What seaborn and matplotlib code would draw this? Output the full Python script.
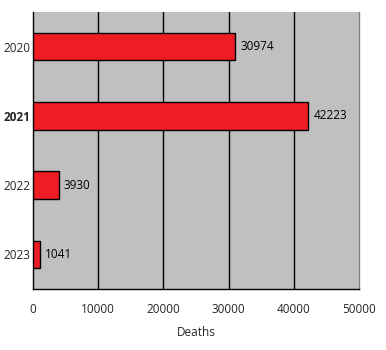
import matplotlib
matplotlib.use("Agg")
import matplotlib.pyplot as plt
import seaborn as sns
import pandas as pd
import numpy as np

years = ["2020", "2021", "2022", "2023"]
deaths = [30974, 42223, 3930, 1041]
xticks = [0, 10000, 20000, 30000, 40000, 50000]

df = pd.DataFrame({"year": years, "deaths": deaths})

sns.set_style("white")
plt.rcParams['font.family'] = ['Open Sans', 'DejaVu Sans']
FS = 8.5

fig = plt.figure(figsize=(3.86, 3.5), dpi=100)
ax = fig.add_axes([33/386, 1-289/350, (359-33)/386, (289-12)/350])
ax.set_facecolor("#C0C0C0")

sns.barplot(data=df, y="year", x="deaths", orient="h", color="#EE1C25",
            edgecolor="black", linewidth=1, width=0.4, saturation=1, ax=ax, zorder=3)

ax.set_xlim(0, 50000)
ax.set_ylim(3.5, -0.5)
ax.set_xticks(xticks)
ax.set_xticklabels([str(t) for t in xticks], fontsize=FS)
for x in xticks[1:-1]:
    ax.axvline(x, color="black", linewidth=1, zorder=1)

ax.set_yticks(range(len(years)))
ax.set_yticklabels(years, fontsize=FS)
for lbl in ax.get_yticklabels():
    if lbl.get_text() == "2021":
        lbl.set_fontweight("bold")
ax.tick_params(axis="y", which="major", length=0, pad=2)
ax.set_yticks(np.arange(-0.5, len(years), 1), minor=True)
ax.tick_params(axis="y", which="minor", length=5, width=1, color="black", direction="out")
ax.tick_params(axis="x", which="major", length=5, width=1, color="black", direction="out", pad=5)

for i, v in enumerate(deaths):
    ax.text(v + 800, i, str(v), va="center", ha="left", fontsize=FS, color="black", zorder=4)

ax.set_xlabel("Deaths", fontsize=FS, labelpad=7)
ax.set_ylabel("")

ax.spines["top"].set_visible(False)
ax.spines["left"].set_color("black")
ax.spines["bottom"].set_color("black")
ax.spines["right"].set_color("#808080")
for s in ["left", "bottom", "right"]:
    ax.spines[s].set_linewidth(1)

fig.savefig("out.png", dpi=100)
